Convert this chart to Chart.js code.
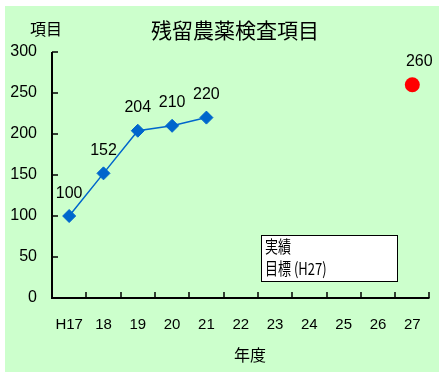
<!DOCTYPE html>
<html>
<head>
<meta charset="utf-8">
<script src="https://cdn.jsdelivr.net/npm/chart.js@4/dist/chart.umd.min.js"></script>
<style>
  html, body { margin: 0; padding: 0; background: #ffffff; }
  #c { display: block; }
</style>
</head>
<body>
<canvas id="c" width="439" height="374"></canvas>
<script>
// Fiscal years (Heisei era)
const years = ['H17', '18', '19', '20', '21', '22', '23', '24', '25', '26', '27'];
// Number of residual pesticide items tested (actual results)
const actualItems = [100, 152, 204, 210, 220, null, null, null, null, null, null];
// Target for H27
const targetItems = [null, null, null, null, null, null, null, null, null, null, 260];
// Y axis ticks
const yTicks = [0, 50, 100, 150, 200, 250, 300];

const chartTitle = '残留農薬検査項目';
const yAxisTitle = '項目';
const xAxisTitle = '年度';
const legendLabels = ['実績', '目標 (H27)'];

const BG = '#CCFFCC';
const NUM_FONT = '"Liberation Sans", Arial, sans-serif';
const CJK_FONT = '"Noto Sans CJK JP", sans-serif';

function stretchedText(ctx, text, x, y, font, sy, align) {
  ctx.save();
  ctx.font = font;
  ctx.textAlign = align || 'center';
  ctx.textBaseline = 'middle';
  ctx.translate(x, y);
  ctx.scale(1, sy);
  ctx.fillText(text, 0, 0);
  ctx.restore();
}

const framePlugin = {
  id: 'frame',
  beforeDraw(chart) {
    const ctx = chart.ctx;
    ctx.save();
    ctx.fillStyle = '#ffffff';
    ctx.fillRect(0, 0, chart.width, chart.height);
    ctx.fillStyle = BG;
    ctx.fillRect(5, 6, chart.width - 5, chart.height - 8);
    ctx.restore();
  },
  afterDatasetsDraw(chart) {
    const ctx = chart.ctx;
    const xs = chart.scales.x, ys = chart.scales.y;
    const area = chart.chartArea;
    ctx.save();
    ctx.strokeStyle = '#000000';
    // axis lines
    ctx.lineWidth = 2;
    ctx.beginPath();
    ctx.moveTo(area.left, ys.getPixelForValue(300));
    ctx.lineTo(area.left, ys.getPixelForValue(0));
    ctx.lineTo(area.right, ys.getPixelForValue(0));
    ctx.stroke();
    // inward tick marks on the value axis
    ctx.lineWidth = 1.5;
    ctx.beginPath();
    yTicks.forEach(v => {
      const py = Math.round(ys.getPixelForValue(v));
      ctx.moveTo(area.left, py);
      ctx.lineTo(area.left + 6, py);
    });
    // inward tick marks at category boundaries
    const step = xs.getPixelForTick(1) - xs.getPixelForTick(0);
    const baseY = ys.getPixelForValue(0);
    for (let i = 0; i < years.length; i++) {
      const px = Math.round(xs.getPixelForTick(i) + step / 2);
      ctx.moveTo(px, baseY);
      ctx.lineTo(px, baseY - 6);
    }
    ctx.stroke();

    // value labels
    ctx.fillStyle = '#000000';
    const m0 = chart.getDatasetMeta(0);
    actualItems.forEach((v, i) => {
      if (v == null) return;
      const p = m0.data[i];
      stretchedText(ctx, String(v), p.x, p.y - 23, '16px ' + NUM_FONT, 1.05);
    });
    const m1 = chart.getDatasetMeta(1);
    targetItems.forEach((v, i) => {
      if (v == null) return;
      const p = m1.data[i];
      stretchedText(ctx, String(v), p.x + 7, p.y - 23, '16px ' + NUM_FONT, 1.05);
    });

    // titles
    stretchedText(ctx, chartTitle, 235, 30, '21px ' + CJK_FONT, 1);
    stretchedText(ctx, yAxisTitle, 46, 29, '16px ' + CJK_FONT, 1);
    stretchedText(ctx, xAxisTitle, 250, 355, '16px ' + CJK_FONT, 1);

    // legend box
    ctx.fillStyle = '#ffffff';
    ctx.fillRect(261, 235, 136, 46);
    ctx.lineWidth = 1;
    ctx.strokeStyle = '#000000';
    ctx.strokeRect(261.5, 235.5, 136, 46);
    ctx.fillStyle = '#000000';
    stretchedText(ctx, legendLabels[0], 265, 247, '13px ' + CJK_FONT, 1.3, 'left');
    stretchedText(ctx, legendLabels[1], 265, 269, '13px ' + CJK_FONT, 1.3, 'left');
    ctx.restore();
  }
};

new Chart(document.getElementById('c'), {
  type: 'line',
  data: {
    labels: years,
    datasets: [
      {
        label: legendLabels[0],
        data: actualItems,
        borderColor: '#0066CC',
        backgroundColor: '#0066CC',
        borderWidth: 1.5,
        pointStyle: 'rectRot',
        pointRadius: 6.5,
        pointBorderWidth: 1,
        spanGaps: false
      },
      {
        label: legendLabels[1],
        data: targetItems,
        borderColor: '#FF0000',
        backgroundColor: '#FF0000',
        showLine: false,
        pointStyle: 'circle',
        pointRadius: 7.5,
        pointBorderWidth: 0
      }
    ]
  },
  options: {
    responsive: false,
    animation: false,
    layout: { padding: { top: 52, right: 6, bottom: 0, left: 0 } },
    plugins: {
      legend: { display: false },
      title: { display: false },
      tooltip: { enabled: false }
    },
    scales: {
      x: {
        type: 'category',
        offset: true,
        grid: { display: false, drawTicks: false },
        border: { display: false },
        ticks: {
          color: '#000000',
          font: { family: NUM_FONT, size: 15 },
          padding: 18,
          maxRotation: 0,
          autoSkip: false
        },
        afterFit(s) { s.height = 76; }
      },
      y: {
        min: 0,
        max: 300,
        afterBuildTicks(s) { s.ticks = yTicks.map(v => ({ value: v })); },
        grid: { display: false, drawTicks: false },
        border: { display: false },
        ticks: {
          color: '#000000',
          font: { family: NUM_FONT, size: 16 },
          padding: 15
        },
        afterFit(s) { s.width = 52; }
      }
    }
  },
  plugins: [framePlugin]
});
</script>
</body>
</html>
